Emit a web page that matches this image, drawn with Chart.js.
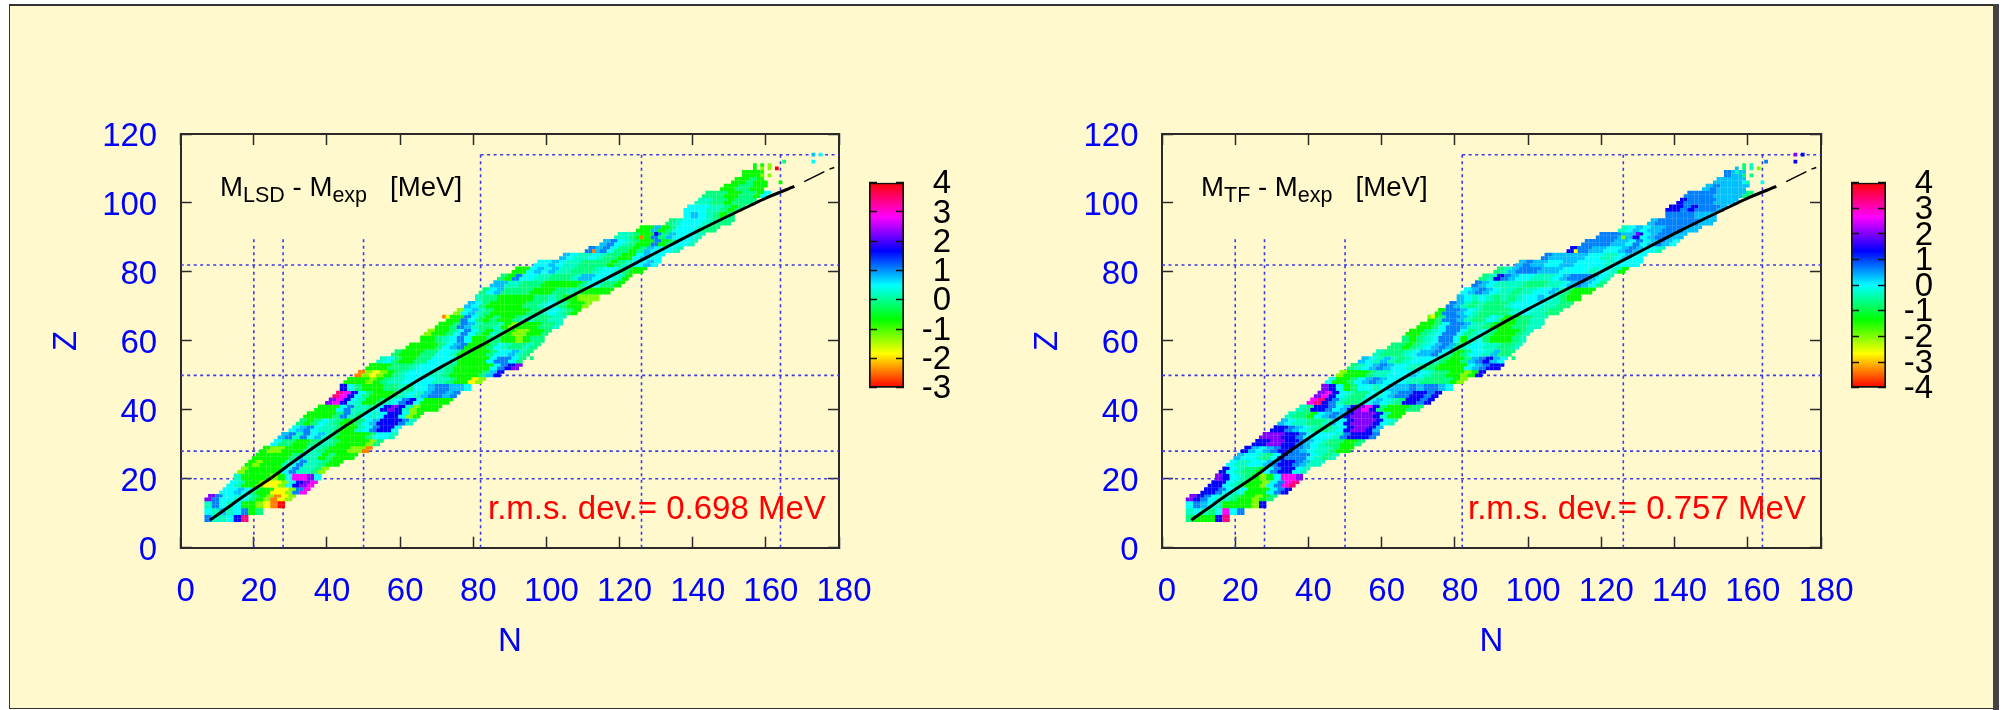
<!DOCTYPE html>
<html><head><meta charset="utf-8">
<script src="https://cdn.jsdelivr.net/npm/chart.js@4"></script>
<style>
html,body{margin:0;padding:0;background:#fff;width:2006px;height:710px;overflow:hidden}
#frame{position:absolute;left:9px;top:4px;width:1983px;height:702px;background:#FFF9CD;border:1.5px solid #333;border-top-width:2px}
#shade{position:absolute;left:1993px;top:4px;width:6px;height:706px;background:#444}
canvas{position:absolute}
.t{position:absolute;font-family:"Liberation Sans",Arial,sans-serif;white-space:pre;line-height:1;color:#000}
.t sub{font-size:.78em;vertical-align:baseline;position:relative;top:.3em;line-height:0}
.r{color:#f00}
</style></head><body>
<div id="frame"></div><div id="shade"></div>
<canvas id="plotL" style="left:20px;top:100px" width="860" height="580"></canvas>
<canvas id="barL" style="left:860px;top:160px" width="91" height="250"></canvas>
<canvas id="plotR" style="left:1001px;top:100px" width="860" height="580"></canvas>
<canvas id="barR" style="left:1842px;top:160px" width="91" height="250"></canvas>
<div class="t" id="tL" style="left:220px;top:173px;font-size:27.6px">M<sub>LSD</sub> - M<sub>exp</sub>   [MeV]</div>
<div class="t" id="tR" style="left:1201px;top:173px;font-size:27.6px">M<sub>TF</sub> - M<sub>exp</sub>   [MeV]</div>
<div class="t r" id="rL" style="left:488px;top:491px;font-size:33px">r.m.s. dev.= 0.698 MeV</div>
<div class="t r" id="rR" style="left:1468px;top:491px;font-size:33px">r.m.s. dev.= 0.757 MeV</div>
<script>
// ---- axis ticks ----
const nTicks = [0,20,40,60,80,100,120,140,160,180];
const zTicks = [0,20,40,60,80,100,120];
const barTicksL = [-3,-2,-1,0,1,2,3,4];
const barTicksR = [-4,-3,-2,-1,0,1,2,3,4];
// ---- colour scale ----
const hueStops = [[255,0,0],[255,255,0],[0,255,0],[0,255,255],[0,0,255],[255,0,255],[255,0,0]];
// value of each letter used in the row strings, MeV
const codeLetters = ['r','o','y','l','g','h','t','c','s','a','b','v','m','p','x'];
const lsdLevels = [-3,-2.42,-1.83,-1.25,-0.67,-0.08,0.21,0.5,0.79,1.08,1.67,2.25,2.83,3.42,4];
const tfLevels  = [-4,-3.33,-2.67,-2,-1.33,-0.67,-0.33,0,0.33,0.67,1.33,2,2.67,3.33,4];
// ---- nuclear chart rows: proton number, first neutron number ----
const rowZ = [8,10,12,14,16,18,20,22,24,26,28,30,32,34,36,38,40,42,44,46,48,50,52,54,56,58,60,62,64,66,68,70,72,74,76,78,80,82,84,86,88,90,92,94,96,98,100,102,104,106,108];
const rowStart = [7,7,7,7,11,13,15,16,18,20,22,25,27,30,32,34,37,40,42,44,45,48,51,54,58,62,66,67,70,73,75,78,81,82,85,87,91,97,104,111,115,119,125,133,138,138,141,143,148,151,154];
// one letter per two neutron numbers
const lsdRows = ["attcbp","ctstcagh","tactcgglyor","vacctchgloyl","ccschggyylam","ctgglyylcbvm","tgggglgcmmvc","lgggggcatthl","glgggtcatthgg","ggggghsttghggg","gllgggtthgggllo","chhgghhthgggglh","satacsthgggghcct","csactthggtcabbc","hghcthgghcsbbbat","gggghathctcbbclg","gggcatthcbvbtlggg","vmbctgghtcabcgggg","pmbchggghtctsaasa","bchggghhthccsaassc","ggglghttcccctthggyl","olylghtccctthgggghsb","ggghhhtcccthgggggcabv","tchgghhccctggggcaach","hggghhcctgggghccsth","gggghcsaggghcthhth","gghtcacgghhgglghh","lgghcachgthgllggh","gghasthhtglggghht","ggachghgghtthhtt","lcsthggggghhtcthg","schggggghhtcthggl","thhggggghhthgglll","hcshhhhggghhthgggg","sstthhhggggghcchhg","hgacctthhhtssccctg","ggcscstthhhtccthgg","ccsctthhhhghtccsc","scttcthhggcscc","asachhghsccct","sacthggaghcct","tthggahsccct","ggsghcccthh","htcccthhh","cscthgh","ccctthgh","tthhghhh","hhhgghhgc","gghhgg","gghg","ggg"];
const tfRows = ["hgggbp","tcthcmca","casctgggglb","vbactthgglgh","bbactcgggcab","bbcthgglcamp","vbcthglgcmmv","bcthhgcabbct","cttccsabbastt","sccthcbaaactht","bscsabbasctthgg","bbvvbbascthhggh","vvvbbacccctabbba","bbascthhtcbvvbs","sctthhtscbvvvbct","thhgcsasbvvvbtgg","thbbacsbvmbhggghh","mpbathhtcscthbbab","vmbcthhctcsaabbab","vbcghcctcsssasaasc","cgghcsasccctthhhhgl","lggghttcccscthhgglgb","htcsascctthhggggcsabb","sctsthtcccchgghsabsc","thhhtcssachghcctshh","hhghtcsashtcctthht","hghtcaacgtchggght","gghtcaachtchggght","gghcaastthggghhtt","ghaasthhctgghhtt","gaascthhhhtcctthh","asththhhtcccctthh","sctcththtccscthgg","csasctthttccsthggg","asctttthhhttcsasch","htbascctttcsaaasct","htsaaassscccctcctg","sassccsscccctcccc","asssssccttcscc","baassccsascct","aaaasscacsasc","aaassbcsaass","tcscssaaass","saaaaaass","aaaasss","bbabaaas","baaaasss","aaaassssh","sassss","ssss","ass"];
// single nuclei: N, Z, letter
const lsdSingles = [[72,67,'o'],[73,67,'y'],[96,55,'h'],[113,86,'o'],[126,90,'o'],[130,91,'b'],[157,110,'g'],[157,111,'g'],[157,109,'g'],[159,111,'g'],[159,110,'l'],[159,108,'l'],[161,111,'l'],[161,110,'l'],[161,108,'l'],[163,110,'x'],[165,112,'h'],[159,106,'g'],[160,106,'g'],[164,106,'g'],[173,114,'s'],[175,114,'c'],[173,112,'c']];
const tfSingles = [[73,67,'l'],[74,67,'y'],[76,69,'g'],[96,55,'h'],[113,86,'y'],[126,90,'l'],[130,91,'v'],[157,110,'s'],[157,109,'t'],[159,111,'h'],[159,110,'h'],[159,108,'h'],[161,111,'t'],[161,110,'t'],[161,108,'h'],[163,110,'l'],[165,112,'a'],[159,106,'c'],[160,106,'t'],[164,106,'c'],[173,114,'v'],[175,114,'b'],[173,112,'b']];
// ---- beta-stability curve (solid part, then dashes) ----
const betaN = [8,12,17.6,24.4,30.5,37.6,44,52,64,72,82,100,120,128,142,156,160,167.8];
const betaZ = [8,11,15.2,20,24.7,30,34.6,40,48,52.9,58.6,69.2,80.1,84.5,92.2,99.4,101.4,104.8];
const dashN1 = [170.5,176], dashZ1 = [106.2,109.1];
const dashN2 = [177.4,178.7], dashZ2 = [109.8,110.3];
// ---- magic-number guide lines: [value, from, to] ----
const magicN = [[20,0,90],[28,0,90],[50,0,90],[82,0,114],[126,0,114],[164,0,114]];
const magicZ = [[20,0,180],[28,0,180],[50,0,180],[82,0,180],[114,82,180]];

const FONT = 'Liberation Sans';
const AXIS = '#2a2a2a';
const level = (letter, levels) => levels[codeLetters.indexOf(letter)];
function colourOf(v, lo, hi){
  const f = Math.min(0.99999, Math.max(0, (v-lo)/(hi-lo))) * 6, i = Math.floor(f), t = f-i;
  const a = hueStops[i], b = hueStops[i+1];
  return `rgb(${a.map((c,k)=>Math.round(c+(b[k]-c)*t)).join(',')})`;
}
function cells(rows, singles, levels){
  const out = [];
  rows.forEach((s,i)=>{
    const z = rowZ[i], n0 = rowStart[i];
    const shift = i+1<rowStart.length && rowStart[i+1]-n0 >= 2 ? 1 : 0;
    [...s].forEach((ch,k)=>{
      const n = n0+2*k, v = level(ch, levels);
      out.push({x:n,y:z,v},{x:n+1,y:z,v},{x:n+shift,y:z+1,v},{x:n+shift+1,y:z+1,v});
    });
  });
  singles.forEach(([x,y,ch])=>out.push({x,y,v:level(ch,levels)}));
  return out;
}
const zip = (xs,ys)=>xs.map((x,i)=>({x,y:ys[i]}));
function fixed(list){ return {afterBuildTicks:s=>{s.ticks=list.map(value=>({value}));}}; }
function noPad(s){ s.paddingLeft=s.paddingRight=s.paddingTop=s.paddingBottom=0; }

function plot(id, rows, singles, levels, lo, hi, yWidth, padRight){
  const guide = (data)=>({type:'scatter',data,showLine:true,pointRadius:0,borderColor:'#3a3ae6',borderWidth:1.6,borderDash:[3,3.5],order:9});
  const datasets = [
    {type:'scatter',data:cells(rows,singles,levels),pointStyle:'rect',pointRadius:2.65,pointBorderWidth:0,
      pointBackgroundColor:c=>colourOf(c.raw.v,lo,hi),order:5},
    {type:'scatter',data:zip(betaN,betaZ),showLine:true,pointRadius:0,borderColor:'#000',borderWidth:3,cubicInterpolationMode:'monotone',order:1},
    {type:'scatter',data:zip(dashN1,dashZ1),showLine:true,pointRadius:0,borderColor:'#000',borderWidth:1.5,order:1},
    {type:'scatter',data:zip(dashN2,dashZ2),showLine:true,pointRadius:0,borderColor:'#000',borderWidth:1.5,order:1},
    ...magicN.map(([v,a,b])=>guide([{x:v,y:a},{x:v,y:b}])),
    ...magicZ.map(([v,a,b])=>guide([{x:a,y:v},{x:b,y:v}]))
  ];
  const lab = {color:'#00f',font:{family:FONT,size:33},maxRotation:0,minRotation:0,autoSkip:false};
  const grid = {drawOnChartArea:false,tickLength:-11,tickWidth:1.5,tickColor:AXIS};
  const border = {display:true,width:2,color:AXIS};
  return new Chart(document.getElementById(id),{
    data:{datasets},
    options:{responsive:false,animation:false,events:[],
      layout:{autoPadding:false,padding:{top:34,right:padRight,left:0,bottom:0}},
      plugins:{legend:{display:false},tooltip:{enabled:false}},
      scales:{
        x:{type:'linear',position:'bottom',min:0,max:180,grid,border,...fixed(nTicks),
          ticks:{...lab,padding:35,labelOffset:5},
          title:{display:true,text:'N',color:'#00f',font:{family:FONT,size:33},padding:{top:0,bottom:18}},
          afterFit:s=>{s.height=132.3;noPad(s);}},
        y:{type:'linear',position:'left',min:0,max:120,grid,border,...fixed(zTicks),
          ticks:{...lab,padding:34.5,labelOffset:3},
          title:{display:true,text:'Z',color:'#00f',font:{family:FONT,size:33},padding:{top:27,bottom:0}},
          afterFit:s=>{s.width=yWidth;noPad(s);}},
        x2:{type:'linear',axis:'x',position:'top',min:0,max:180,grid,border,...fixed(nTicks),
          ticks:{display:false},afterFit:s=>{s.height=0;noPad(s);}},
        y2:{type:'linear',axis:'y',position:'right',min:0,max:120,grid,border,...fixed(zTicks),
          ticks:{display:false},afterFit:s=>{s.width=0;noPad(s);}}
      }}
  });
}
function colourBar(id, ticks){
  const lo = ticks[0], hi = ticks[ticks.length-1];
  const grid = {drawOnChartArea:false,tickLength:-8,tickWidth:1.5,tickColor:'#111',z:1};
  return new Chart(document.getElementById(id),{
    type:'bar',
    data:{labels:[''],datasets:[{data:[[lo,hi]],barPercentage:1,categoryPercentage:1,borderSkipped:false,borderWidth:2,borderColor:'#111',
      backgroundColor:c=>{
        const a = c.chart.chartArea; if(!a) return '#fff';
        const g = c.chart.ctx.createLinearGradient(0,a.bottom,0,a.top);
        hueStops.forEach((h,i)=>g.addColorStop(i/6,`rgb(${h.join(',')})`));
        return g;
      }}]},
    options:{responsive:false,animation:false,events:[],
      layout:{autoPadding:false,padding:{top:22.7,left:9,bottom:22.3,right:0}},
      plugins:{legend:{display:false},tooltip:{enabled:false}},
      scales:{
        x:{display:false},
        y:{position:'right',min:lo,max:hi,grid,border:{display:false},...fixed(ticks),
          ticks:{color:'#000',font:{family:FONT,size:33},crossAlign:'far',padding:0,labelOffset:1.5,autoSkip:false,maxRotation:0},
          afterFit:s=>{s.width=47;noPad(s);}},
        y2:{type:'linear',axis:'y',position:'left',min:lo,max:hi,grid,border:{display:false},...fixed(ticks),
          ticks:{display:false},afterFit:s=>{s.width=0;noPad(s);}}
      }}
  });
}
plot('plotL',lsdRows,lsdSingles,lsdLevels,-3,4,160.7,41);
plot('plotR',tfRows,tfSingles,tfLevels,-4,4,161,40);
colourBar('barL',barTicksL);
colourBar('barR',barTicksR);
</script>
</body></html>
